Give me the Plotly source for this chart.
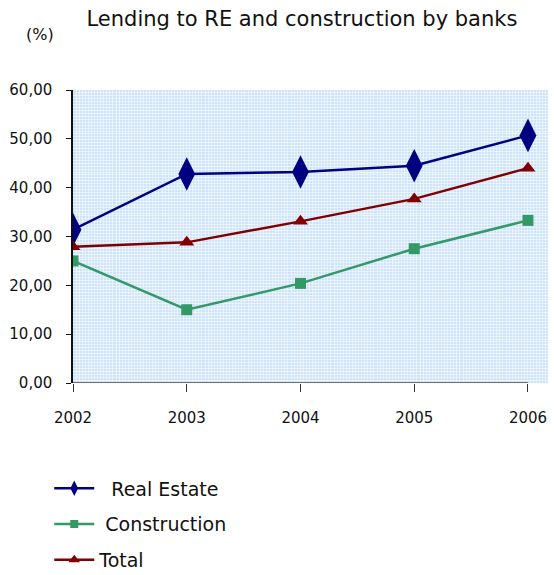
import plotly.graph_objects as go

# Bank lending shares, percent
years = [2002, 2003, 2004, 2005, 2006]
real_estate = [31.4, 42.8, 43.2, 44.5, 50.7]
construction = [25.0, 15.0, 20.4, 27.5, 33.3]
total = [27.9, 28.8, 33.1, 37.7, 44.0]
y_ticks = [0, 10, 20, 30, 40, 50, 60]

FONT = "DejaVu Sans"

# name, values, colour, symbol, plot marker size, legend marker size
series = [
    ("  Real Estate", real_estate, "#000080", "diamond-tall", 24, 11),
    (" Construction", construction, "#339966", "square", 11, 8),
    ("Total", total, "#800000", "triangle-up", 13, 10),
]

fig = go.Figure()
for i, (name, vals, color, symbol, size, lsize) in enumerate(series):
    fig.add_trace(go.Scatter(
        x=years, y=vals, mode="lines+markers", name=name,
        showlegend=False,
        line=dict(color=color, width=2.5),
        marker=dict(symbol=symbol, size=size, color=color),
    ))
    # legend entry with a smaller symbol
    fig.add_trace(go.Scatter(
        x=[None], y=[None], mode="lines+markers", name=name,
        legendgroup=f"g{i}",
        line=dict(color=color, width=2.5),
        marker=dict(symbol=symbol, size=lsize, color=color),
    ))

# x axis baseline spanning the first to last year only
fig.add_shape(type="line", xref="x", yref="y",
              x0=years[0], x1=years[-1], y0=0, y1=0,
              line=dict(color="#444444", width=1.5))

texture = dict(showgrid=True, gridcolor="rgba(255,255,255,0.55)",
               gridwidth=1, ticks="")

fig.update_layout(
    width=554, height=575,
    margin=dict(l=73, r=6, t=90, b=192, autoexpand=False),
    paper_bgcolor="white",
    plot_bgcolor="#cde3fb",
    separators=",.",
    font=dict(family=FONT, color="#111111", size=15),
    title=dict(text="Lending to RE and construction by banks",
               x=0.545, xanchor="center", y=0.968, yanchor="middle",
               font=dict(family=FONT, size=21, color="#111111")),
    annotations=[dict(text="(%)", xref="paper", yref="paper",
                      x=-0.07, y=1.19, xanchor="center", yanchor="middle",
                      showarrow=False, font=dict(family=FONT, size=16))],
    showlegend=True,
    legend=dict(x=-0.05, y=-0.295, xanchor="left", yanchor="top",
                orientation="v", tracegroupgap=8, itemwidth=40,
                font=dict(family=FONT, size=19, color="#111111"),
                bgcolor="rgba(0,0,0,0)"),
    xaxis=dict(range=[2002, 2006.176], tickvals=years,
               ticktext=[str(y) for y in years],
               showgrid=False, zeroline=False, showline=False,
               ticks="outside", ticklen=8, tickcolor="#333333",
               ticklabelstandoff=13, tickfont=dict(size=15),
               minor=dict(dtick=0.027, tick0=2002, **texture)),
    yaxis=dict(range=[0, 60], tickvals=y_ticks, tickformat=".2f",
               showgrid=False, zeroline=False,
               showline=True, linecolor="#111111", linewidth=1.5,
               ticks="outside", ticklen=5, tickcolor="#111111",
               ticklabelstandoff=11, tickfont=dict(size=15),
               minor=dict(dtick=0.6, tick0=0, **texture)),
)

fig.write_html("out.html")
